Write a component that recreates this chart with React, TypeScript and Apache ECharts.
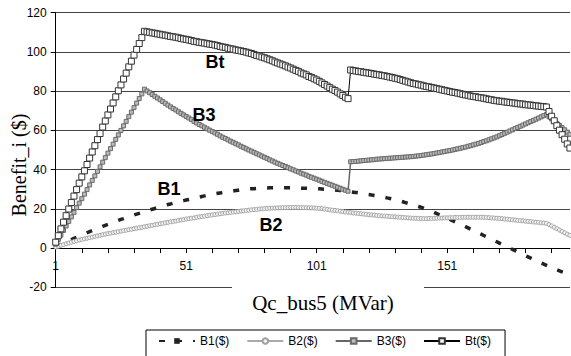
import React, { useEffect, useRef } from "react";
import * as echarts from "echarts";

const categories: string[] = [];
for (let i = 1; i <= 198; i++) categories.push(String(i));

const seriesNames = ["B1($)", "B2($)", "B3($)", "Bt($)"];

const b1 = [
  0.5, 1.1, 1.8, 2.4, 3.0, 3.7, 4.3, 4.9, 5.5, 6.1,
  6.7, 7.2, 7.8, 8.4, 8.9, 9.5, 10.0, 10.5, 11.1, 11.6,
  12.1, 12.6, 13.1, 13.6, 14.1, 14.6, 15.0, 15.5, 16.0, 16.4,
  16.9, 17.3, 17.7, 18.1, 18.6, 19.0, 19.4, 19.8, 20.2, 20.6,
  21.0, 21.4, 21.8, 22.2, 22.5, 22.9, 23.3, 23.6, 23.9, 24.2,
  24.5, 24.8, 25.1, 25.4, 25.7, 26.0, 26.3, 26.6, 26.9, 27.2,
  27.5, 27.7, 27.9, 28.1, 28.3, 28.5, 28.7, 28.9, 29.1, 29.3,
  29.5, 29.7, 29.9, 30.1, 30.2, 30.3, 30.3, 30.4, 30.5, 30.5,
  30.6, 30.6, 30.7, 30.7, 30.7, 30.7, 30.7, 30.7, 30.7, 30.7,
  30.7, 30.6, 30.6, 30.6, 30.5, 30.5, 30.5, 30.4, 30.4, 30.3,
  30.3, 30.2, 30.1, 30.0, 29.9, 29.8, 29.7, 29.6, 29.5, 29.3,
  29.2, 29.0, 28.9, 28.7, 28.5, 28.3, 28.1, 27.9, 27.7, 27.5,
  27.3, 27.1, 26.8, 26.6, 26.4, 26.1, 25.9, 25.6, 25.3, 25.0,
  24.7, 24.4, 24.0, 23.6, 23.2, 22.8, 22.4, 22.0, 21.6, 21.2,
  20.8, 20.3, 19.8, 19.3, 18.8, 18.2, 17.6, 17.0, 16.4, 15.8,
  15.2, 14.6, 14.0, 13.4, 12.8, 12.2, 11.5, 10.9, 10.3, 9.6,
  9.0, 8.4, 7.7, 7.1, 6.4, 5.8, 5.1, 4.5, 3.8, 3.2,
  2.5, 1.9, 1.2, 0.6, -0.1, -0.7, -1.3, -2.0, -2.6, -3.2,
  -3.9, -4.5, -5.1, -5.7, -6.4, -7.0, -7.6, -8.2, -8.8, -9.4,
  -10.0, -10.5, -11.1, -11.6, -12.1, -12.6, -13.1, -13.5,
];

const b2 = [
  0.5, 0.9, 1.4, 1.8, 2.2, 2.6, 3.0, 3.4, 3.7, 4.1,
  4.4, 4.7, 5.0, 5.3, 5.6, 5.9, 6.2, 6.5, 6.8, 7.1,
  7.4, 7.6, 7.9, 8.1, 8.4, 8.6, 8.9, 9.1, 9.4, 9.6,
  9.9, 10.1, 10.4, 10.6, 10.9, 11.1, 11.4, 11.6, 11.9, 12.1,
  12.4, 12.6, 12.9, 13.1, 13.4, 13.6, 13.8, 14.1, 14.3, 14.5,
  14.8, 15.0, 15.2, 15.4, 15.7, 15.9, 16.1, 16.3, 16.5, 16.7,
  16.9, 17.1, 17.3, 17.5, 17.7, 17.9, 18.0, 18.2, 18.4, 18.5,
  18.7, 18.9, 19.0, 19.2, 19.3, 19.5, 19.6, 19.7, 19.9, 20.0,
  20.1, 20.2, 20.3, 20.4, 20.4, 20.5, 20.5, 20.6, 20.6, 20.6,
  20.7, 20.7, 20.7, 20.7, 20.6, 20.6, 20.6, 20.5, 20.5, 20.4,
  20.3, 20.2, 20.1, 19.9, 19.7, 19.5, 19.3, 19.2, 19.0, 18.8,
  18.6, 18.4, 18.3, 18.1, 17.9, 17.8, 17.6, 17.5, 17.3, 17.2,
  17.0, 16.9, 16.8, 16.6, 16.5, 16.4, 16.3, 16.2, 16.1, 16.0,
  15.9, 15.8, 15.7, 15.6, 15.5, 15.4, 15.3, 15.2, 15.2, 15.1,
  15.1, 15.0, 15.0, 15.1, 15.1, 15.2, 15.2, 15.3, 15.3, 15.4,
  15.4, 15.5, 15.5, 15.6, 15.6, 15.6, 15.7, 15.7, 15.7, 15.7,
  15.7, 15.7, 15.7, 15.7, 15.7, 15.6, 15.5, 15.4, 15.3, 15.2,
  15.1, 15.0, 14.8, 14.7, 14.6, 14.4, 14.3, 14.1, 14.0, 13.9,
  13.7, 13.6, 13.5, 13.3, 13.2, 13.1, 12.9, 12.8, 12.6, 12.0,
  11.3, 10.6, 9.9, 9.2, 8.5, 7.8, 7.1, 6.5,
];

const b3 = [
  2.0, 4.3, 6.6, 9.0, 11.3, 13.6, 15.9, 18.2, 20.6, 22.9,
  25.2, 27.5, 29.8, 32.2, 34.5, 36.8, 39.1, 41.4, 43.8, 46.1,
  48.4, 50.7, 53.0, 55.4, 57.7, 60.0, 62.3, 64.6, 67.0, 69.3,
  71.6, 73.9, 76.2, 78.6, 81.0, 80.1, 79.2, 78.3, 77.4, 76.5,
  75.6, 74.7, 73.8, 72.9, 72.0, 71.2, 70.4, 69.5, 68.7, 67.9,
  67.1, 66.3, 65.5, 64.6, 63.8, 63.0, 62.3, 61.6, 60.8, 60.1,
  59.4, 58.7, 58.0, 57.2, 56.5, 55.9, 55.2, 54.5, 53.9, 53.2,
  52.6, 51.9, 51.3, 50.6, 50.0, 49.4, 48.8, 48.1, 47.5, 46.9,
  46.3, 45.7, 45.0, 44.4, 43.8, 43.2, 42.7, 42.1, 41.6, 41.0,
  40.4, 39.9, 39.3, 38.8, 38.2, 37.7, 37.2, 36.6, 36.1, 35.6,
  35.1, 34.6, 34.0, 33.5, 33.0, 32.5, 32.0, 31.5, 31.0, 30.5,
  30.0, 29.5, 29.0, 44.0, 44.1, 44.2, 44.3, 44.5, 44.6, 44.7,
  44.9, 45.0, 45.1, 45.3, 45.4, 45.5, 45.6, 45.7, 45.8, 45.9,
  46.0, 46.1, 46.2, 46.3, 46.4, 46.5, 46.6, 46.7, 46.9, 47.0,
  47.2, 47.4, 47.6, 47.8, 48.0, 48.2, 48.5, 48.7, 49.0, 49.2,
  49.5, 49.7, 50.0, 50.3, 50.6, 50.9, 51.2, 51.5, 51.9, 52.2,
  52.6, 53.0, 53.4, 53.8, 54.3, 54.7, 55.2, 55.7, 56.2, 56.7,
  57.3, 57.9, 58.5, 59.1, 59.7, 60.3, 60.9, 61.5, 62.1, 62.7,
  63.3, 63.9, 64.5, 65.1, 65.7, 66.3, 66.9, 67.5, 68.1, 67.0,
  65.9, 64.8, 63.6, 62.5, 61.4, 60.3, 59.1, 58.0,
];

const bt = [
  3.0, 6.3, 9.8, 13.2, 16.5, 19.9, 23.2, 26.5, 29.8, 33.1,
  36.3, 39.4, 42.6, 45.9, 49.0, 52.2, 55.3, 58.4, 61.7, 64.8,
  67.9, 70.9, 74.0, 77.1, 80.2, 83.2, 86.2, 89.2, 92.4, 95.3,
  98.4, 101.3, 104.3, 107.3, 110.5, 110.2, 110.0, 109.7, 109.5, 109.2,
  109.0, 108.7, 108.5, 108.2, 107.9, 107.7, 107.5, 107.2, 106.9, 106.6,
  106.4, 106.1, 105.8, 105.4, 105.2, 104.9, 104.7, 104.5, 104.2, 104.0,
  103.8, 103.5, 103.2, 102.8, 102.5, 102.3, 101.9, 101.6, 101.4, 101.0,
  100.8, 100.5, 100.2, 99.9, 99.5, 99.2, 98.7, 98.2, 97.9, 97.4,
  97.0, 96.5, 96.0, 95.5, 94.9, 94.4, 93.9, 93.4, 92.9, 92.3,
  91.8, 91.2, 90.6, 90.1, 89.3, 88.8, 88.3, 87.5, 87.0, 86.3,
  85.7, 85.0, 84.2, 83.4, 82.6, 81.8, 81.0, 80.3, 79.5, 78.6,
  77.8, 76.9, 76.2, 90.8, 90.5, 90.3, 90.0, 89.9, 89.6, 89.4,
  89.2, 89.0, 88.7, 88.5, 88.3, 88.0, 87.8, 87.5, 87.2, 86.9,
  86.6, 86.3, 85.9, 85.5, 85.1, 84.7, 84.3, 83.9, 83.7, 83.3,
  83.1, 82.7, 82.4, 82.2, 81.9, 81.6, 81.3, 81.0, 80.7, 80.4,
  80.1, 79.8, 79.5, 79.3, 79.0, 78.7, 78.4, 78.1, 77.9, 77.5,
  77.3, 77.1, 76.8, 76.6, 76.4, 76.1, 75.8, 75.6, 75.3, 75.1,
  74.9, 74.8, 74.5, 74.4, 74.2, 74.0, 73.9, 73.6, 73.5, 73.4,
  73.1, 73.0, 72.9, 72.7, 72.5, 72.4, 72.2, 72.1, 71.9, 69.6,
  67.2, 64.9, 62.4, 60.1, 57.8, 55.5, 53.1, 51.0,
];

const yTitle = "Benefit_i ($)";
const xTitle = "Qc_bus5 (MVar)";
const curveLabels = [
  { text: "Bt", x: 215, y: 62 },
  { text: "B3", x: 204, y: 115 },
  { text: "B1", x: 169, y: 189 },
  { text: "B2", x: 271, y: 225 },
];

const SANS = "'Liberation Sans', Arial, sans-serif";
const SERIF = "'Liberation Serif', 'Times New Roman', serif";

export default function App() {
  const ref = useRef<HTMLDivElement>(null);
  useEffect(() => {
    if (!ref.current) return;
    const chart = echarts.init(ref.current, undefined, { renderer: "svg" });
    const gridLeft = 55.7;
    const gridTop = 12.7;
    const gridW = 514.2;
    const gridH = 274.6;
    const zeroOffset = -(gridH * 20) / 140; // x axis drawn at value 0
    chart.setOption({
      animation: false,
      backgroundColor: "#ffffff",
      grid: { left: gridLeft, top: gridTop, width: gridW, height: gridH, containLabel: false },
      legend: {
        data: seriesNames,
        left: 146,
        top: 330,
        orient: "horizontal",
        borderColor: "#000",
        borderWidth: 1,
        padding: [5, 14, 30, 12],
        itemWidth: 36,
        itemHeight: 7,
        itemGap: 17,
        textStyle: { fontFamily: SANS, fontSize: 12, color: "#000" },
      },
      xAxis: {
        type: "category",
        data: categories,
        boundaryGap: false,
        offset: zeroOffset,
        axisLine: { onZero: false, lineStyle: { color: "#000", width: 1 } },
        axisTick: {
          show: true,
          length: 5,
          inside: false,
          interval: (i: number) => i % 10 === 0,
          lineStyle: { color: "#000" },
        },
        axisLabel: {
          interval: (i: number) => i % 50 === 0,
          margin: 12,
          fontFamily: SANS,
          fontSize: 12,
          color: "#000",
        },
        splitLine: { show: false },
      },
      yAxis: {
        type: "value",
        min: -20,
        max: 120,
        interval: 20,
        axisLine: { show: true, lineStyle: { color: "#000", width: 1 } },
        axisTick: { show: true, length: 5, lineStyle: { color: "#000" } },
        axisLabel: { margin: 9, fontFamily: SANS, fontSize: 12, color: "#000" },
        splitLine: { show: true, lineStyle: { color: "#444", width: 1 } },
      },
      series: [
        {
          name: seriesNames[0],
          type: "line",
          data: b1,
          symbol: "rect",
          symbolSize: 4,
          showSymbol: false,
          lineStyle: { color: "#222", width: 3.5, type: [6, 11], cap: "butt" },
          itemStyle: { color: "#222" },
          z: 2,
        },
        {
          name: seriesNames[1],
          type: "line",
          data: b2,
          symbol: "circle",
          symbolSize: 4,
          showSymbol: true,
          showAllSymbol: true,
          lineStyle: { color: "#aaa", width: 1.5 },
          itemStyle: { color: "#f2f2f2", borderColor: "#a0a0a0", borderWidth: 1 },
          z: 3,
        },
        {
          name: seriesNames[2],
          type: "line",
          data: b3,
          symbol: "rect",
          symbolSize: 4,
          showSymbol: true,
          showAllSymbol: true,
          lineStyle: { color: "#666", width: 1.5 },
          itemStyle: { color: "#bbb", borderColor: "#6a6a6a", borderWidth: 1 },
          z: 4,
        },
        {
          name: seriesNames[3],
          type: "line",
          data: bt,
          symbol: "rect",
          symbolSize: 6,
          showSymbol: true,
          showAllSymbol: true,
          lineStyle: { color: "#000", width: 1 },
          itemStyle: { color: "#fff", borderColor: "#333", borderWidth: 1 },
          z: 5,
        },
      ],
      graphic: [
        {
          type: "rect",
          z: 100,
          shape: { x: 232, y: 283, width: 192, height: 34 },
          style: { fill: "#fff" },
        },
        {
          type: "text",
          z: 101,
          x: 323,
          y: 303,
          style: {
            text: xTitle,
            font: `21px ${SERIF}`,
            fill: "#000",
            textAlign: "center",
            textVerticalAlign: "middle",
          },
        },
        {
          type: "text",
          z: 101,
          x: 19,
          y: 165,
          rotation: Math.PI / 2,
          style: {
            text: yTitle,
            font: `20px ${SERIF}`,
            fill: "#000",
            textAlign: "center",
            textVerticalAlign: "middle",
          },
        },
        ...curveLabels.map((l) => ({
          type: "text",
          z: 101,
          x: l.x,
          y: l.y,
          style: {
            text: l.text,
            font: `bold 18px ${SANS}`,
            fill: "#000",
            textAlign: "center",
            textVerticalAlign: "middle",
          },
        })),
      ],
    });
    return () => chart.dispose();
  }, []);
  return (
    <div
      ref={ref}
      style={{ position: "absolute", left: 0, top: 0, width: 571, height: 356, background: "#fff" }}
    />
  );
}
